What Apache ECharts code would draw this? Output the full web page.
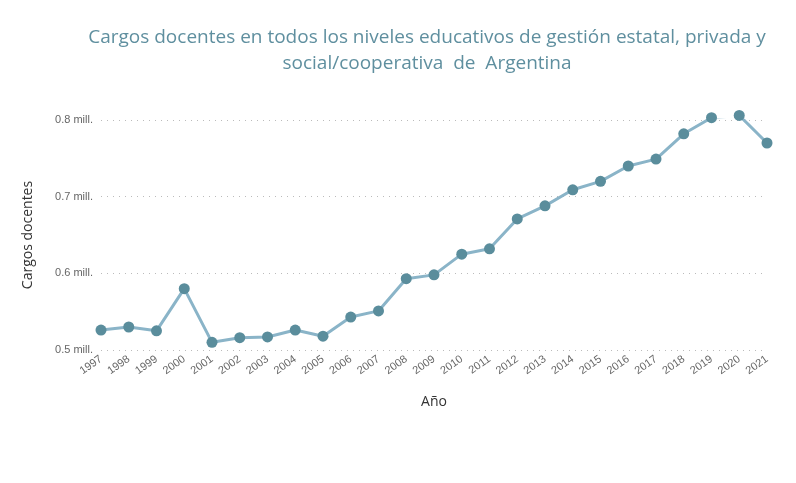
<!DOCTYPE html>
<html>
<head>
<meta charset="utf-8">
<script src="https://cdn.jsdelivr.net/npm/echarts@6/dist/echarts.min.js"></script>
<style>html,body{margin:0;background:#fff}#chart{width:796px;height:483px}</style>
</head>
<body>
<div id="chart"></div>
<script>
var years = ['1997','1998','1999','2000','2001','2002','2003','2004','2005','2006','2007','2008','2009',
	'2010','2011','2012','2013','2014','2015','2016','2017','2018','2019','2020','2021'];
var cargos = [526000,530000,525000,580000,510000,516000,517000,526000,518000,543000,551000,593000,598000,
	625000,632000,671000,688000,709000,720000,740000,749000,782000,803000,806000,770000];

var myChart = echarts.init(document.getElementById('chart'));
myChart.setOption({
	title : {
		text : 'Cargos docentes en todos los niveles educativos de gestión estatal, privada y\nsocial/cooperativa  de  Argentina',
		left : 422, top : 20, textAlign : 'center',
		textStyle : { color : '#5f8f9f', fontSize : 19, fontWeight : 500, lineHeight : 26, fontFamily : 'Open Sans' }
	},
	grid : { left : 101, right : 29, top : 120, bottom : 133 },
	xAxis : {
		type : 'category', data : years, boundaryGap : false,
		name : 'Año', nameLocation : 'middle', nameGap : 45,
		nameTextStyle : { color : '#333', fontSize : 14, fontFamily : 'Open Sans' },
		axisLine : { show : false }, axisTick : { show : false },
		axisLabel : { rotate : 35, color : '#666', fontSize : 11, margin : 8 }
	},
	yAxis : {
		type : 'value', min : 500000, max : 800000, interval : 100000,
		name : 'Cargos docentes', nameLocation : 'middle', nameGap : 66,
		nameTextStyle : { color : '#333', fontSize : 14, fontFamily : 'Open Sans' },
		axisLabel : { color : '#666', fontSize : 11, formatter : function (v) { return (v / 1000000).toFixed(1) + ' mill.'; } },
		splitLine : { lineStyle : { type : [1, 5], color : '#bbb' } }
	},
	series : [ {
		type : 'line', data : cargos, clip : false,
		symbol : 'circle', symbolSize : 11,
		lineStyle : { color : '#8ab4c8', width : 3 },
		itemStyle : { color : '#5a8d9c' }
	} ]
});
</script>
</body>
</html>
